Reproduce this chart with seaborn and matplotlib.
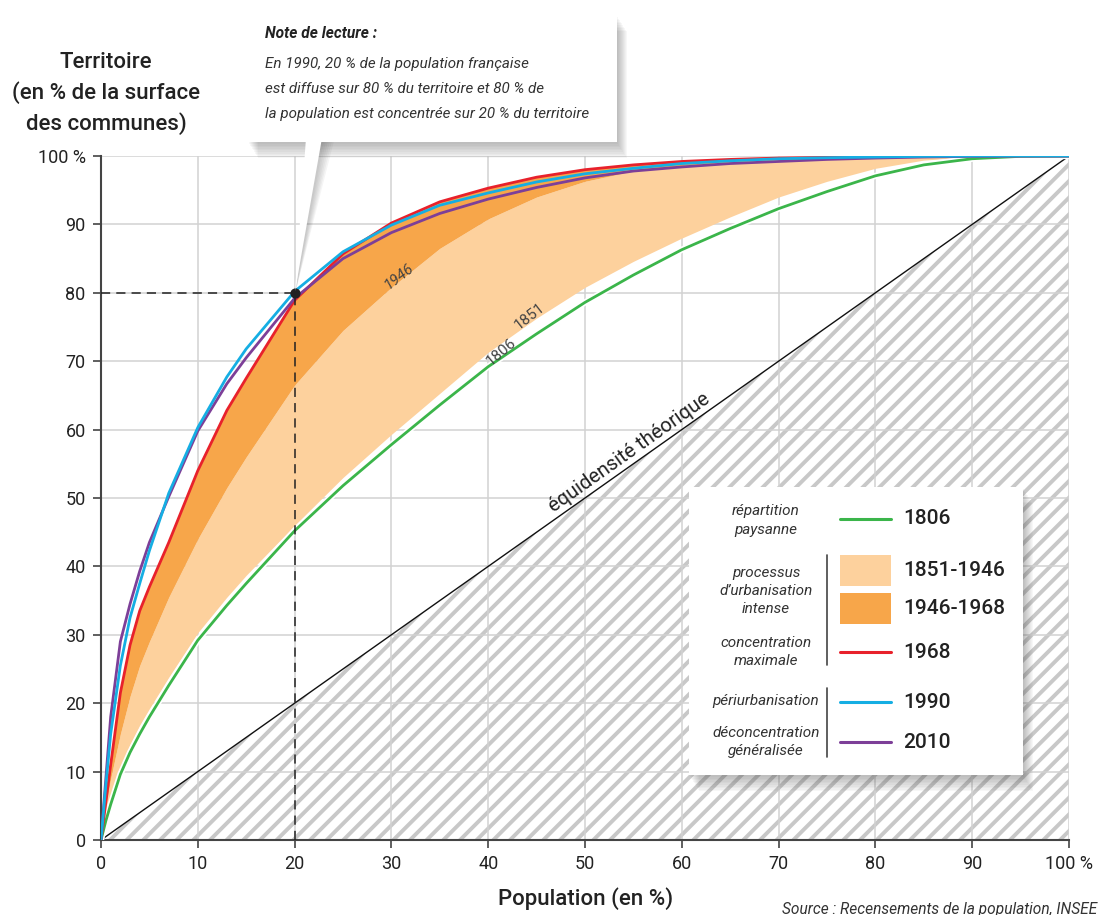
import numpy as np
import pandas as pd
import matplotlib
matplotlib.use("Agg")
import matplotlib.pyplot as plt
import matplotlib.patches as mpatches
import matplotlib.patheffects as pe
import seaborn as sns

# ---------------- data ----------------
population = [0, 0.5, 1, 2, 3, 4, 5, 7, 10, 13, 15, 20, 25, 30, 35, 40, 45, 50, 55, 60, 65, 70, 75, 80, 85, 90, 95, 100]
terr_1806 = [0, 2.8, 5.2, 9.6, 12.8, 15.5, 18, 22.6, 29.2, 34.3, 37.5, 45.2, 51.8, 57.8, 63.6, 69.2, 74, 78.6, 82.6, 86.3, 89.4, 92.3, 94.8, 97.1, 98.7, 99.6, 99.95, 100]
terr_1851 = [0, 3.2, 6, 10.5, 14, 16.8, 19.2, 23.8, 30.3, 35.5, 38.7, 46, 53, 59.3, 65.3, 71.3, 76.3, 80.8, 84.6, 88, 91.1, 94, 96.3, 98.2, 99.4, 99.9, 100, 100]
terr_1946 = [0, 5, 9, 15.5, 21, 25.5, 29, 35.5, 44, 51.5, 56, 66.5, 74.5, 80.8, 86.5, 90.8, 94, 96.3, 97.8, 98.6, 99.1, 99.4, 99.6, 99.8, 99.9, 100, 100, 100]
terr_1968 = [0, 5.5, 11, 21.5, 28.5, 33.5, 37, 43.5, 54, 62.8, 67.5, 78.9, 85.7, 90.2, 93.3, 95.3, 96.9, 98, 98.7, 99.2, 99.5, 99.7, 99.8, 99.9, 99.95, 100, 100, 100]
terr_1990 = [0, 8, 15.5, 25.5, 32.5, 37.5, 42.3, 50.7, 60.3, 67.7, 71.8, 80.2, 86, 89.9, 92.8, 94.6, 96.2, 97.4, 98.2, 98.9, 99.3, 99.6, 99.75, 99.85, 99.95, 100, 100, 100]
terr_2010 = [0, 9, 18, 29, 34.5, 39.3, 43.5, 50.2, 59.8, 66.7, 70.5, 79.2, 85, 88.8, 91.6, 93.7, 95.4, 96.8, 97.8, 98.4, 98.9, 99.2, 99.5, 99.7, 99.85, 99.95, 100, 100]

ticks = [0, 10, 20, 30, 40, 50, 60, 70, 80, 90, 100]
tick_labels = ["0", "10", "20", "30", "40", "50", "60", "70", "80", "90", "100 %"]
reading_point = (20, 80)

C_GREEN = "#3bb54a"
C_LIGHT = "#fdd19d"
C_DARK = "#f7a64a"
C_RED = "#e8212b"
C_CYAN = "#15aee3"
C_PURPLE = "#7d3f98"

# ---------------- style ----------------
sns.set_theme(style="white")
FONT = ["Roboto", "DejaVu Sans"]
plt.rcParams["font.family"] = FONT
plt.rcParams["hatch.linewidth"] = 2.8
plt.rcParams["hatch.color"] = "#c8c8c8"

W, H = 1099, 915
fig = plt.figure(figsize=(W / 100, H / 100), dpi=100)
fig.patch.set_facecolor("white")


def fx(px):
    return px / W


def fy(py):
    return 1 - py / H


ax = fig.add_axes([fx(101), fy(840), fx(1069) - fx(101), fy(156) - fy(840)])
ax.set_xlim(0, 100)
ax.set_ylim(0, 100)

# grid
ax.set_axisbelow(True)
ax.grid(True, color="#d2d2d2", linewidth=1.1)
ax.set_xticks(ticks)
ax.set_yticks(ticks)
ax.set_xticklabels(tick_labels, fontsize=13, color="#222222")
ax.set_yticklabels(tick_labels, fontsize=13, color="#222222")
ax.tick_params(axis="both", direction="out", length=6, width=1.2, color="#444444", pad=5, left=True, bottom=True)
for s in ["top", "right"]:
    ax.spines[s].set_visible(False)
for s in ["left", "bottom"]:
    ax.spines[s].set_color("#444444")
    ax.spines[s].set_linewidth(1.5)

# hatched triangle below equidensity
diag = [0, 100]
ax.fill_between(diag, diag, 0, facecolor="white", edgecolor="#c8c8c8", hatch="//", linewidth=0, zorder=0.3)
sns.lineplot(x=diag, y=diag, ax=ax, color="#111111", linewidth=1.0, zorder=3)

# bands
ax.fill_between(population, terr_1851, terr_1946, color=C_LIGHT, linewidth=0, zorder=2)
ax.fill_between(population, terr_1946, terr_1968, color=C_DARK, linewidth=0, zorder=2.1)

# lines
sns.lineplot(x=population, y=terr_1806, ax=ax, color=C_GREEN, linewidth=2.0, zorder=4,
             path_effects=[pe.Stroke(linewidth=4.5, foreground="white"), pe.Normal()])
for yy, col, z in [(terr_1968, C_RED, 5), (terr_2010, C_PURPLE, 6), (terr_1990, C_CYAN, 7)]:
    sns.lineplot(x=population, y=yy, ax=ax, color=col, linewidth=2.0, zorder=z)

ax.set_xlabel("")
ax.set_ylabel("")

# reading guide
ax.plot([0, reading_point[0]], [reading_point[1]] * 2, ls=(0, (6, 4)), color="#222222", lw=1.1, zorder=8)
ax.plot([reading_point[0]] * 2, [0, reading_point[1]], ls=(0, (6, 4)), color="#222222", lw=1.1, zorder=8)
ax.scatter([reading_point[0]], [reading_point[1]], s=40, color="#222222", zorder=9)

# curve labels
ax.text(30.8, 82.3, "1946", rotation=38, fontsize=11, color="#444444", ha="center", va="center",
        style="italic", zorder=8)
ax.text(44.3, 76.5, "1851", rotation=38, fontsize=11, color="#444444", ha="center", va="center", zorder=8)
ax.text(41.4, 71.3, "1806", rotation=40, fontsize=11, color="#444444", ha="center", va="center", zorder=8)
ax.text(54.6, 56.7, "équidensité théorique", rotation=45, transform_rotates_text=True,
        rotation_mode="anchor", fontsize=14.5, color="#222222", ha="center", va="center", zorder=8)

# axis titles
for txt, py in [("Territoire", 62), ("(en % de la surface", 93), ("des communes)", 124)]:
    fig.text(fx(106), fy(py), txt, ha="center", va="center", fontsize=16, color="#222222", fontweight="medium")
fig.text(fx(586), fy(899), "Population (en %)", ha="center", va="center", fontsize=16, color="#222222",
         fontweight="medium")
fig.text(fx(782), fy(902), "Source : Recensements de la population, INSEE", ha="left", va="top",
         fontsize=11.2, style="italic", color="#333333")


def shadow_box(x0, y0, x1, y1, z):
    for i in range(10):
        off = 2 + i * 1.6
        r = mpatches.Rectangle((fx(x0 + off * 0.6), fy(y1 + off)), fx(x1 - x0), fy(y0) - fy(y1),
                               transform=fig.transFigure, facecolor="#555555", alpha=0.045,
                               edgecolor="none", zorder=z)
        fig.patches.append(r)
    fig.patches.append(mpatches.Rectangle((fx(x0), fy(y1)), fx(x1 - x0), fy(y0) - fy(y1),
                                          transform=fig.transFigure, facecolor="white",
                                          edgecolor="none", zorder=z + 1))


# callout box
shadow_box(248, 15, 617, 142, 20)
for i in range(6):
    off = 2 + i * 2
    fig.patches.append(mpatches.Polygon([(fx(306 + off), fy(141)), (fx(322 + off), fy(141)), (fx(296), fy(290))],
                                        closed=True, transform=fig.transFigure, facecolor="#555555",
                                        alpha=0.06, edgecolor="none", zorder=20))
fig.patches.append(mpatches.Polygon([(fx(306), fy(138)), (fx(322), fy(138)), (fx(295), fy(291))],
                                    closed=True, transform=fig.transFigure, facecolor="white",
                                    edgecolor="none", zorder=21))
fig.text(fx(265), fy(33), "Note de lecture :", fontsize=11.2, fontweight="bold", style="italic",
         color="#222222", ha="left", va="center", zorder=30)
for txt, py in [("En 1990, 20 % de la population française", 64),
                ("est diffuse sur 80 % du territoire et 80 % de", 89),
                ("la population est concentrée sur 20 % du territoire", 114)]:
    fig.text(fx(265), fy(py), txt, fontsize=10.9, style="italic", color="#333333", ha="left", va="center",
             zorder=30)

# legend box
shadow_box(689, 487, 1023, 775, 20)
desc_x = 766
lx0, lx1 = 840, 891
labx = 903
legend_lines = [(519, C_GREEN, "1806"), (652, C_RED, "1968"), (702, C_CYAN, "1990"), (742, C_PURPLE, "2010")]
for py, col, lab in legend_lines:
    fig.lines.append(matplotlib.lines.Line2D([fx(lx0), fx(lx1)], [fy(py), fy(py)], transform=fig.transFigure,
                                             color=col, linewidth=2.2, zorder=30))
    fig.text(fx(labx), fy(py), lab, fontsize=15, color="#222222", ha="left", va="center", zorder=30,
             fontweight="medium")
for (py0, py1), col, lab in [((555, 586), C_LIGHT, "1851-1946"), ((593, 624), C_DARK, "1946-1968")]:
    fig.patches.append(mpatches.Rectangle((fx(lx0), fy(py1)), fx(lx1 - lx0), fy(py0) - fy(py1),
                                          transform=fig.transFigure, facecolor=col, edgecolor="none",
                                          zorder=30))
    fig.text(fx(labx), fy((py0 + py1) / 2), lab, fontsize=15, color="#222222", ha="left", va="center",
             zorder=30, fontweight="medium")
for txt, py in [("répartition", 511), ("paysanne", 530), ("processus", 573), ("d\u2019urbanisation", 591),
                ("intense", 609), ("concentration", 643), ("maximale", 661), ("périurbanisation", 701),
                ("déconcentration", 733), ("généralisée", 751)]:
    fig.text(fx(desc_x), fy(py), txt, fontsize=11, style="italic", color="#333333", ha="center",
             va="center", zorder=30)
for py0, py1 in [(555, 665), (688, 757)]:
    fig.lines.append(matplotlib.lines.Line2D([fx(827), fx(827)], [fy(py0), fy(py1)], transform=fig.transFigure,
                                             color="#444444", linewidth=1.2, zorder=30))

fig.savefig("out.png", dpi=100, facecolor="white")
